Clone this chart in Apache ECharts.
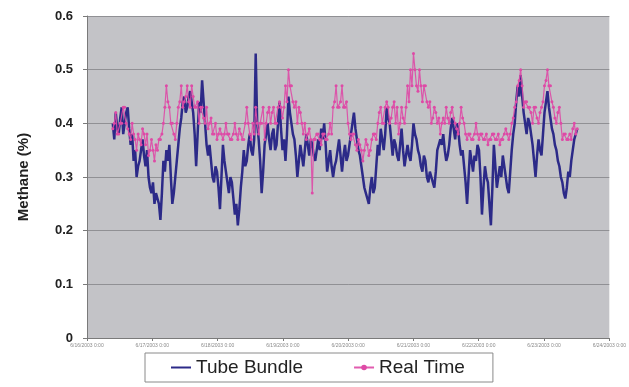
<!DOCTYPE html>
<html>
<head>
<meta charset="utf-8">
<script src="https://cdn.jsdelivr.net/npm/echarts@6/dist/echarts.min.js"></script>
<style>
  html, body { margin: 0; padding: 0; background: #fff; }
  #chart { width: 629px; height: 387px; }
</style>
</head>
<body>
<div id="chart"></div>
<script>
// x tick labels (dates, printed very small in the source)
var tickLabels = ['6/16/2003 0:00', '6/17/2003 0:00', '6/18/2003 0:00', '6/19/2003 0:00', '6/20/2003 0:00',
    '6/21/2003 0:00', '6/22/2003 0:00', '6/23/2003 0:00', '6/24/2003 0:00'];

// sampling: first sample time and spacing, in days from the first tick
var sampleStart = 0.395;
var sampleStep = 0.0228;

// methane readings (%)
var tubeBundle = [
    0.40, 0.37, 0.42, 0.39, 0.38, 0.41, 0.43, 0.38, 0.40, 0.42, 0.43, 0.39, 0.36, 0.38, 0.33, 0.35, 0.30, 0.32, 0.33, 0.35,
    0.37, 0.34, 0.32, 0.35, 0.30, 0.28, 0.27, 0.29, 0.25, 0.27, 0.27, 0.25, 0.22, 0.27, 0.33, 0.31, 0.35, 0.33, 0.36, 0.30,
    0.25, 0.27, 0.30, 0.33, 0.36, 0.39, 0.41, 0.44, 0.45, 0.42, 0.43, 0.45, 0.46, 0.44, 0.42, 0.38, 0.32, 0.38, 0.44, 0.42,
    0.48, 0.44, 0.40, 0.36, 0.34, 0.36, 0.33, 0.30, 0.29, 0.32, 0.31, 0.28, 0.24, 0.30, 0.36, 0.33, 0.31, 0.29, 0.27, 0.30,
    0.29, 0.26, 0.23, 0.25, 0.21, 0.24, 0.28, 0.31, 0.35, 0.32, 0.33, 0.36, 0.38, 0.35, 0.34, 0.37, 0.53, 0.40, 0.37, 0.33,
    0.27, 0.31, 0.36, 0.38, 0.40, 0.37, 0.35, 0.38, 0.39, 0.35, 0.36, 0.40, 0.44, 0.39, 0.35, 0.37, 0.33, 0.38, 0.45, 0.42,
    0.40, 0.38, 0.37, 0.34, 0.30, 0.33, 0.36, 0.34, 0.32, 0.35, 0.38, 0.36, 0.34, 0.37, 0.36, 0.34, 0.33, 0.35, 0.37, 0.35,
    0.39, 0.37, 0.40, 0.36, 0.31, 0.33, 0.35, 0.32, 0.30, 0.32, 0.33, 0.35, 0.37, 0.34, 0.31, 0.34, 0.36, 0.33, 0.34, 0.36,
    0.38, 0.40, 0.42, 0.39, 0.37, 0.35, 0.34, 0.32, 0.30, 0.28, 0.27, 0.26, 0.25, 0.28, 0.30, 0.27, 0.28, 0.32, 0.36, 0.34,
    0.39, 0.37, 0.35, 0.38, 0.43, 0.41, 0.40, 0.37, 0.34, 0.37, 0.36, 0.34, 0.33, 0.36, 0.39, 0.35, 0.32, 0.34, 0.36, 0.34,
    0.33, 0.36, 0.40, 0.38, 0.37, 0.35, 0.34, 0.32, 0.31, 0.34, 0.33, 0.30, 0.29, 0.31, 0.30, 0.29, 0.28, 0.31, 0.35, 0.36,
    0.37, 0.36, 0.38, 0.35, 0.33, 0.34, 0.36, 0.39, 0.41, 0.39, 0.37, 0.40, 0.39, 0.36, 0.34, 0.35, 0.32, 0.29, 0.25, 0.30,
    0.35, 0.33, 0.31, 0.34, 0.33, 0.36, 0.35, 0.30, 0.23, 0.28, 0.32, 0.30, 0.29, 0.25, 0.21, 0.28, 0.36, 0.32, 0.28, 0.30,
    0.32, 0.30, 0.34, 0.32, 0.30, 0.28, 0.27, 0.31, 0.35, 0.38, 0.40, 0.44, 0.47, 0.45, 0.49, 0.45, 0.42, 0.40, 0.38, 0.41,
    0.40, 0.38, 0.36, 0.33, 0.30, 0.34, 0.37, 0.35, 0.34, 0.38, 0.42, 0.44, 0.46, 0.43, 0.41, 0.39, 0.38, 0.36, 0.35, 0.33,
    0.32, 0.30, 0.29, 0.27, 0.26, 0.28, 0.31, 0.30, 0.33, 0.35, 0.37, 0.38, 0.39
];

var realTime = [
    0.39, 0.40, 0.42, 0.38, 0.38, 0.40, 0.40, 0.43, 0.43, 0.40, 0.39, 0.38, 0.37, 0.40, 0.38, 0.37, 0.35, 0.38, 0.37, 0.36,
    0.39, 0.38, 0.36, 0.38, 0.34, 0.35, 0.37, 0.35, 0.33, 0.36, 0.35, 0.37, 0.37, 0.38, 0.40, 0.43, 0.47, 0.44, 0.43, 0.40,
    0.40, 0.38, 0.37, 0.40, 0.43, 0.44, 0.47, 0.43, 0.44, 0.45, 0.47, 0.44, 0.43, 0.47, 0.45, 0.43, 0.43, 0.44, 0.40, 0.43,
    0.43, 0.41, 0.40, 0.43, 0.39, 0.40, 0.41, 0.38, 0.38, 0.40, 0.37, 0.38, 0.39, 0.38, 0.37, 0.38, 0.40, 0.38, 0.38, 0.37,
    0.37, 0.38, 0.40, 0.38, 0.37, 0.39, 0.38, 0.37, 0.37, 0.40, 0.43, 0.40, 0.38, 0.37, 0.40, 0.38, 0.43, 0.40, 0.38, 0.40,
    0.40, 0.43, 0.37, 0.40, 0.42, 0.43, 0.40, 0.42, 0.43, 0.40, 0.40, 0.43, 0.44, 0.43, 0.41, 0.43, 0.47, 0.44, 0.50, 0.47,
    0.47, 0.44, 0.43, 0.44, 0.40, 0.43, 0.42, 0.40, 0.38, 0.40, 0.37, 0.38, 0.39, 0.37, 0.27, 0.37, 0.37, 0.38, 0.38, 0.37,
    0.36, 0.38, 0.38, 0.37, 0.37, 0.38, 0.40, 0.38, 0.43, 0.44, 0.47, 0.43, 0.43, 0.44, 0.47, 0.43, 0.43, 0.44, 0.40, 0.38,
    0.37, 0.38, 0.38, 0.36, 0.35, 0.37, 0.36, 0.35, 0.33, 0.35, 0.37, 0.36, 0.34, 0.35, 0.37, 0.38, 0.38, 0.37, 0.40, 0.42,
    0.43, 0.40, 0.40, 0.43, 0.44, 0.43, 0.40, 0.41, 0.43, 0.44, 0.40, 0.43, 0.38, 0.40, 0.43, 0.41, 0.40, 0.43, 0.47, 0.44,
    0.50, 0.47, 0.53, 0.50, 0.47, 0.46, 0.50, 0.47, 0.44, 0.47, 0.47, 0.44, 0.43, 0.44, 0.40, 0.41, 0.43, 0.42, 0.40, 0.41,
    0.38, 0.40, 0.41, 0.40, 0.43, 0.41, 0.40, 0.42, 0.43, 0.41, 0.40, 0.39, 0.38, 0.40, 0.43, 0.41, 0.40, 0.38, 0.37, 0.38,
    0.38, 0.37, 0.37, 0.38, 0.40, 0.38, 0.37, 0.38, 0.38, 0.37, 0.37, 0.38, 0.36, 0.37, 0.37, 0.38, 0.38, 0.37, 0.37, 0.38,
    0.36, 0.37, 0.37, 0.38, 0.39, 0.38, 0.37, 0.38, 0.40, 0.41, 0.43, 0.44, 0.47, 0.48, 0.50, 0.47, 0.43, 0.44, 0.44, 0.43,
    0.43, 0.42, 0.40, 0.43, 0.43, 0.41, 0.40, 0.42, 0.43, 0.44, 0.47, 0.48, 0.50, 0.47, 0.47, 0.44, 0.43, 0.41, 0.40, 0.42,
    0.43, 0.40, 0.37, 0.38, 0.38, 0.37, 0.37, 0.38, 0.37, 0.39, 0.40, 0.38, 0.39
];

/**
 * Pair each reading with its sample time.
 * @param {number[]} values
 * @returns {Array}
 */
function toPoints(values) {
    var out = [];
    for (var i = 0; i < values.length; i++) {
        out.push([sampleStart + i * sampleStep, values[i]]);
    }
    return out;
}

var navy = '#2c2a88';
var pink = '#de4aa6';

var chart = echarts.init(document.getElementById('chart'));
chart.setOption({
    backgroundColor: '#ffffff',
    animation: false,
    grid: {
        left: 87, right: 16, top: 16, bottom: 49,
        show: true, backgroundColor: '#c3c3c7', borderWidth: 0
    },
    legend: {
        left: 145, top: 353,
        padding: [5, 28, 5, 25],
        itemWidth: 20, itemHeight: 7, itemGap: 50,
        borderColor: '#8a8a8a', borderWidth: 1,
        textStyle: { fontFamily: 'Liberation Sans, Arial', fontSize: 19, color: '#222' },
        data: [
            { name: 'Tube Bundle', itemStyle: { opacity: 0 } },
            { name: 'Real Time' }
        ]
    },
    xAxis: {
        type: 'value', min: 0, max: 8, interval: 1,
        axisLine: { lineStyle: { color: '#7a7a7a' } },
        axisTick: { length: 3, lineStyle: { color: '#7a7a7a' } },
        splitLine: { show: false },
        axisLabel: {
            fontSize: 5, color: '#8a8a8a', margin: 5,
            formatter: function (v) { return tickLabels[Math.round(v)] || ''; }
        }
    },
    yAxis: {
        type: 'value', min: 0, max: 0.6, interval: 0.1,
        name: 'Methane (%)', nameLocation: 'middle', nameGap: 56,
        nameTextStyle: { fontFamily: 'Liberation Sans, Arial', fontSize: 15, fontWeight: 'bold', color: '#222' },
        axisLine: { show: true, lineStyle: { color: '#7a7a7a' } },
        axisTick: { show: true, length: 4, lineStyle: { color: '#7a7a7a' } },
        splitLine: { lineStyle: { color: '#909094', width: 1 } },
        axisLabel: {
            fontFamily: 'Liberation Sans, Arial', fontSize: 13, fontWeight: 'bold', color: '#222', margin: 14,
            formatter: function (v) { return v === 0 ? '0' : v.toFixed(1); }
        }
    },
    series: [
        {
            name: 'Tube Bundle', type: 'line', data: toPoints(tubeBundle),
            symbol: 'none', lineStyle: { color: navy, width: 2.5 },
            itemStyle: { color: navy }
        },
        {
            name: 'Real Time', type: 'line', data: toPoints(realTime),
            symbol: 'circle', symbolSize: 3, showSymbol: true,
            lineStyle: { color: pink, width: 1.2, opacity: 0.9 },
            itemStyle: { color: pink }
        }
    ]
});
</script>
</body>
</html>
